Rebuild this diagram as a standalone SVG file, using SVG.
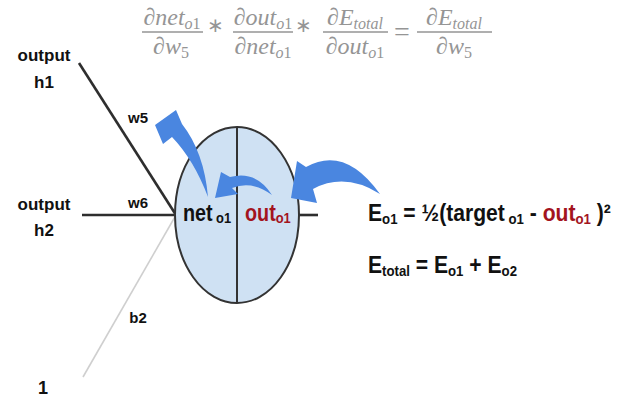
<svg xmlns="http://www.w3.org/2000/svg" width="630" height="399" viewBox="0 0 630 399">
<defs>
<style>
.lbl{font-family:"Liberation Sans",Arial,sans-serif;font-weight:bold;fill:#111;}
.math{font-family:"Liberation Serif","Times New Roman",serif;font-style:italic;fill:#959595;font-size:24px;}
.op{font-family:"Liberation Serif","Times New Roman",serif;fill:#959595;}
.up{font-style:normal;}
.bar{stroke:#959595;stroke-width:1.4;}
.edge{stroke:#2e2e2e;stroke-width:2.6;fill:none;}
.arrow{fill:#4a86e0;}
.red{fill:#a3141e;}
</style>
</defs>
<rect width="630" height="399" fill="#fff"/>

<g id="formula-top">
  <text class="math" x="172" y="25" text-anchor="middle">∂net<tspan font-size="16" dy="4">o<tspan class="up">1</tspan></tspan></text>
  <line class="bar" x1="142" y1="32" x2="203" y2="32"/>
  <text class="math" x="171" y="54" text-anchor="middle">∂w<tspan class="up" font-size="16" dy="4">5</tspan></text>
  <text class="op" x="215" y="32" text-anchor="middle" font-size="20">∗</text>
  <text class="math" x="263" y="25" text-anchor="middle">∂out<tspan font-size="16" dy="4">o<tspan class="up">1</tspan></tspan></text>
  <line class="bar" x1="233" y1="32" x2="293" y2="32"/>
  <text class="math" x="263" y="54" text-anchor="middle">∂net<tspan font-size="16" dy="4">o<tspan class="up">1</tspan></tspan></text>
  <text class="op" x="303" y="32" text-anchor="middle" font-size="20">∗</text>
  <text class="math" x="355" y="25" text-anchor="middle">∂E<tspan font-size="16" dy="4">total</tspan></text>
  <line class="bar" x1="323" y1="32" x2="388" y2="32"/>
  <text class="math" x="355" y="54" text-anchor="middle">∂out<tspan font-size="16" dy="4">o<tspan class="up">1</tspan></tspan></text>
  <text class="op" x="402" y="41" text-anchor="middle" font-size="28">=</text>
  <text class="math" x="454" y="25" text-anchor="middle">∂E<tspan font-size="16" dy="4">total</tspan></text>
  <line class="bar" x1="417" y1="32" x2="492" y2="32"/>
  <text class="math" x="454" y="54" text-anchor="middle">∂w<tspan class="up" font-size="16" dy="4">5</tspan></text>
</g>

<g id="connectors">
  <line class="edge" x1="79" y1="63" x2="176" y2="215"/>
  <line class="edge" x1="82" y1="215" x2="176" y2="215"/>
  <line x1="176" y1="215" x2="83" y2="377" stroke="#cfcfcf" stroke-width="1.6"/>
  <line class="edge" x1="298" y1="215" x2="318" y2="215"/>
</g>

<g id="label-h1">
  <text class="lbl" x="44" y="61" text-anchor="middle" font-size="17">output</text>
  <text class="lbl" x="44" y="88" text-anchor="middle" font-size="17">h1</text>
</g>
<g id="label-h2">
  <text class="lbl" x="44" y="210" text-anchor="middle" font-size="17">output</text>
  <text class="lbl" x="44" y="236" text-anchor="middle" font-size="17">h2</text>
</g>
<g id="label-1">
  <text class="lbl" x="43" y="394" text-anchor="middle" font-size="18">1</text>
</g>
<g id="weight-labels">
  <text class="lbl" x="138" y="123" text-anchor="middle" font-size="15">w5</text>
  <text class="lbl" x="138" y="208" text-anchor="middle" font-size="15">w6</text>
  <text class="lbl" x="138" y="323" text-anchor="middle" font-size="15">b2</text>
</g>

<g id="neuron-o1">
  <ellipse cx="237" cy="215" rx="62" ry="88" fill="#cfe1f3" stroke="#333" stroke-width="2"/>
  <line x1="237" y1="127" x2="237" y2="303" stroke="#333" stroke-width="2"/>
  <g transform="translate(183 221) scale(0.86 1)">
    <text class="lbl" x="0" y="0" font-size="23">net<tspan font-size="15" dx="4" dy="2">o1</tspan></text>
  </g>
  <g transform="translate(245 221) scale(0.86 1)">
    <text class="lbl red" x="0" y="0" font-size="23">out<tspan font-size="15" dy="2">o1</tspan></text>
  </g>
</g>

<g id="arrows">
  <path class="arrow" d="M208,197 Q204,152 182,124 L176,110 L155,125 L163,144 L172,137 Q194,160 208,197 Z"/>
  <path class="arrow" d="M272,195 Q256,170 230,177 L221,172 L215,198 L238,194 L232,188 Q252,180 272,195 Z"/>
  <path class="arrow" d="M380,194 Q345,145 306,167 L297,161 L291,198 L317,203 L313,189 Q345,172 380,194 Z"/>
</g>

<g id="equations">
  <g transform="translate(368 221) scale(0.88 1)">
    <text class="lbl" font-size="24" y="0"><tspan x="0">E</tspan><tspan font-size="15" dy="3">o1</tspan><tspan dy="-3"> = ½(target</tspan><tspan font-size="15" dy="3"> o1</tspan><tspan dy="-3"> - </tspan><tspan class="red">out</tspan><tspan class="red" font-size="15" dy="3">o1</tspan><tspan dy="-3"> )²</tspan></text>
  </g>
  <g transform="translate(368 273) scale(0.88 1)">
    <text class="lbl" font-size="24" y="0"><tspan x="0">E</tspan><tspan font-size="15" dy="3">total</tspan><tspan dy="-3"> = E</tspan><tspan font-size="15" dy="3">o1</tspan><tspan dy="-3"> + E</tspan><tspan font-size="15" dy="3">o2</tspan></text>
  </g>
</g>
</svg>
